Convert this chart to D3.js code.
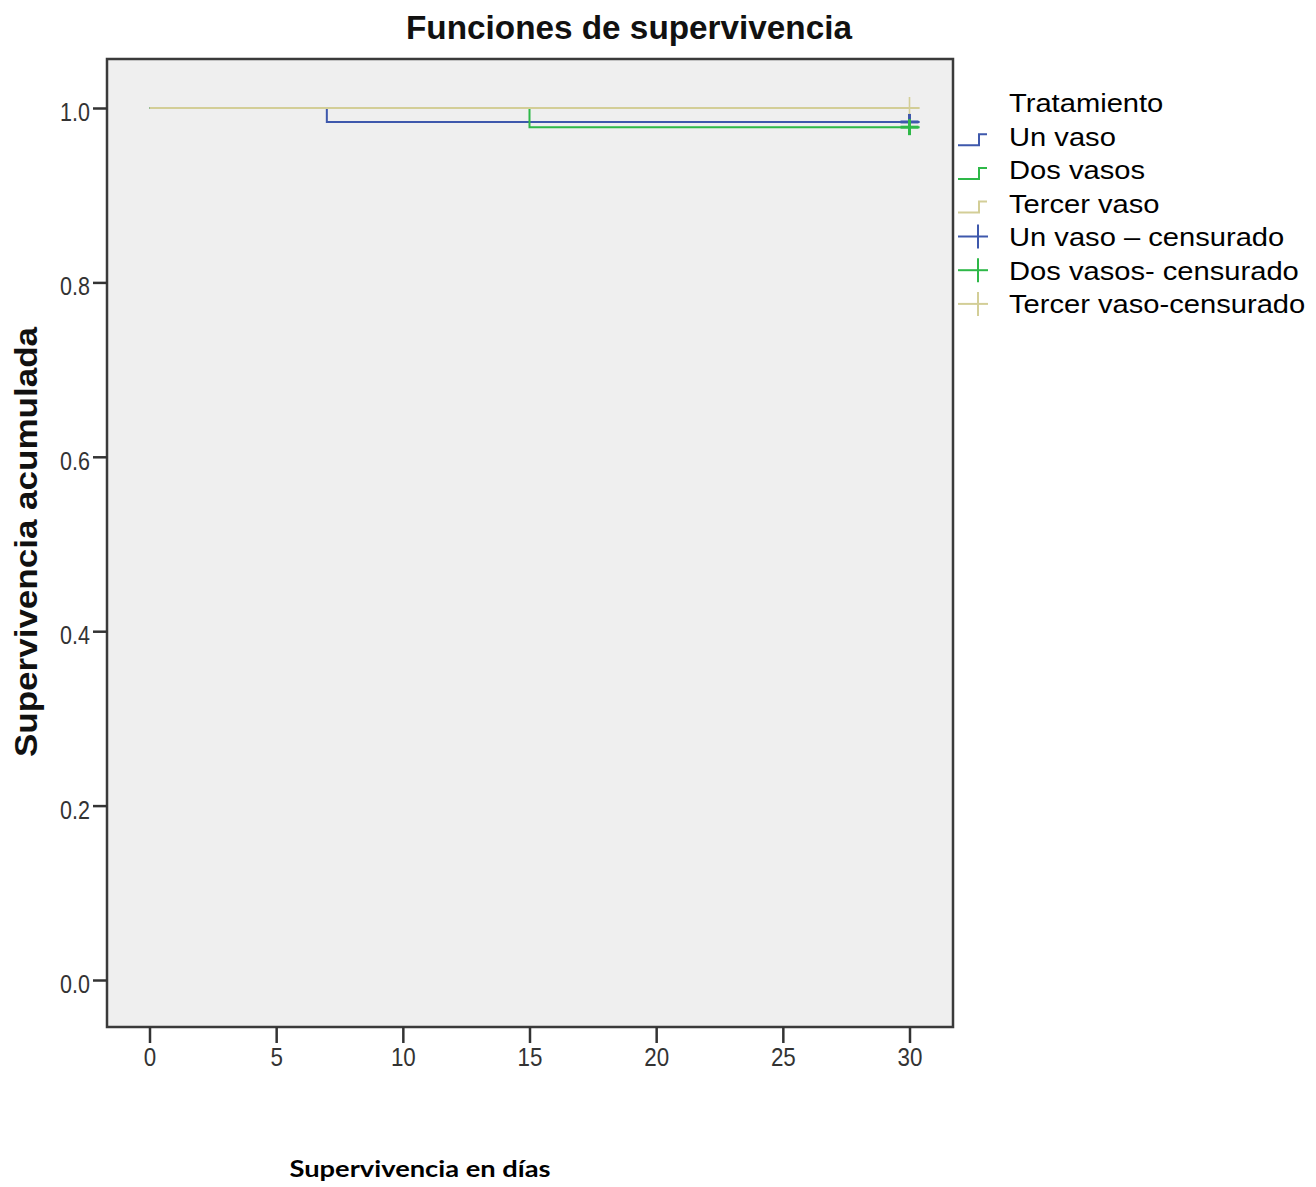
<!DOCTYPE html>
<html>
<head>
<meta charset="utf-8">
<script src="https://cdn.jsdelivr.net/npm/d3@7"></script>
<style>
  html, body { margin: 0; padding: 0; background: #ffffff; }
  svg { display: block; }
</style>
</head>
<body>
<svg id="chart" width="1316" height="1187"></svg>
<script>
// ---------- DATA ----------
const seriesNames = ["Un vaso", "Dos vasos", "Tercer vaso"];
const censoredNames = ["Un vaso \u2013 censurado", "Dos vasos- censurado", "Tercer vaso-censurado"];
const legendTitle = "Tratamiento";
const seriesColors = ["#3e58ac", "#2eb848", "#d3ce97"];

// step functions (time, cumulative survival)
const unVasoTimes = [0, 7, 30.4];
const unVasoSurv = [1.0, 0.984, 0.984];
const dosVasosTimes = [0, 15, 30.4];
const dosVasosSurv = [1.0, 0.978, 0.978];
const tercerVasoTimes = [0, 30.4];
const tercerVasoSurv = [1.0, 1.0];

// censored observations
const unVasoCensorTimes = [30];
const unVasoCensorSurv = [0.984];
const dosVasosCensorTimes = [30];
const dosVasosCensorSurv = [0.978];
const tercerVasoCensorTimes = [30];
const tercerVasoCensorSurv = [1.0];

const xTicks = [0, 5, 10, 15, 20, 25, 30];
const yTicks = [0.0, 0.2, 0.4, 0.6, 0.8, 1.0];

const chartTitle = "Funciones de supervivencia";
const xTitle = "Supervivencia en d\u00edas";
const yTitle = "Supervivencia acumulada";

// ---------- LAYOUT ----------
const svg = d3.select("#chart");
const frame = { left: 107, top: 59, right: 953, bottom: 1027 };

const x = d3.scaleLinear().domain([0, 30]).range([149.5, 909.5]);
const y = d3.scaleLinear().domain([0, 1]).range([980, 108]);

function condense(sel, factor) {
  sel.each(function () {
    const len = this.getComputedTextLength();
    d3.select(this).attr("textLength", len * factor).attr("lengthAdjust", "spacingAndGlyphs");
  });
}

// plot background / frame
svg.append("rect")
  .attr("x", frame.left).attr("y", frame.top)
  .attr("width", frame.right - frame.left)
  .attr("height", frame.bottom - frame.top)
  .attr("fill", "#efefef")
  .attr("stroke", "#3a3a3a")
  .attr("stroke-width", 2.5);

// axes
const yAxis = d3.axisLeft(y).tickValues(yTicks).tickFormat(d3.format(".1f")).tickSize(14).tickPadding(3);
const yG = svg.append("g").attr("transform", `translate(${frame.left},0)`).call(yAxis);
yG.select(".domain").remove();
yG.selectAll(".tick line").attr("stroke", "#333").attr("stroke-width", 2.5);
yG.selectAll(".tick text")
  .attr("fill", "#333")
  .attr("font-family", "Liberation Sans, Arial, sans-serif")
  .attr("font-size", 25)
  .attr("dy", "0.5em")
  .call(condense, 0.86);

const xAxis = d3.axisBottom(x).tickValues(xTicks).tickFormat(d3.format("d")).tickSize(16).tickPadding(5);
const xG = svg.append("g").attr("transform", `translate(0,${frame.bottom})`).call(xAxis);
xG.select(".domain").remove();
xG.selectAll(".tick line").attr("stroke", "#333").attr("stroke-width", 2.5);
xG.selectAll(".tick text")
  .attr("fill", "#333")
  .attr("font-family", "Liberation Sans, Arial, sans-serif")
  .attr("font-size", 26)
  .attr("dy", "0.68em")
  .call(condense, 0.86);

// series
const seriesData = [
  { times: unVasoTimes, surv: unVasoSurv, ct: unVasoCensorTimes, cs: unVasoCensorSurv, w: 3 },
  { times: dosVasosTimes, surv: dosVasosSurv, ct: dosVasosCensorTimes, cs: dosVasosCensorSurv, w: 3 },
  { times: tercerVasoTimes, surv: tercerVasoSurv, ct: tercerVasoCensorTimes, cs: tercerVasoCensorSurv, w: 1.6 }
];

const line = d3.line()
  .x(d => x(d[0]))
  .y(d => y(d[1]))
  .curve(d3.curveStepAfter);

[0, 1, 2].forEach(i => {
  const s = seriesData[i];
  const pts = s.times.map((t, k) => [t, s.surv[k]]);
  svg.append("path")
    .attr("d", line(pts))
    .attr("fill", "none")
    .attr("stroke", seriesColors[i])
    .attr("stroke-width", 2);
});

// censor crosses
const half = 9;
[2, 0, 1].forEach(i => {
  const s = seriesData[i];
  const g = svg.append("g").attr("stroke", seriesColors[i]).attr("stroke-width", s.w);
  s.ct.forEach((t, k) => {
    const cx = x(t), cy = y(s.cs[k]);
    const vh = i === 2 ? 11 : 8;
    g.append("line").attr("x1", cx - half).attr("x2", cx + half).attr("y1", cy).attr("y2", cy);
    g.append("line").attr("x1", cx).attr("x2", cx).attr("y1", cy - vh).attr("y2", cy + vh);
  });
});

// titles
svg.append("text")
  .attr("x", 629).attr("y", 39)
  .attr("text-anchor", "middle")
  .attr("font-family", "Liberation Sans, Arial, sans-serif")
  .attr("font-weight", "bold")
  .attr("font-size", 33)
  .attr("textLength", 446)
  .attr("lengthAdjust", "spacingAndGlyphs")
  .attr("fill", "#111")
  .text(chartTitle);

svg.append("text")
  .attr("transform", "translate(37,542) rotate(-90)")
  .attr("text-anchor", "middle")
  .attr("font-family", "Liberation Sans, Arial, sans-serif")
  .attr("font-weight", "bold")
  .attr("font-size", 31)
  .attr("textLength", 430)
  .attr("lengthAdjust", "spacingAndGlyphs")
  .attr("fill", "#111")
  .text(yTitle);

svg.append("text")
  .attr("x", 420).attr("y", 1177)
  .attr("text-anchor", "middle")
  .attr("font-family", "Lato, Open Sans, sans-serif")
  .attr("font-weight", "bold")
  .attr("font-size", 23)
  .attr("textLength", 261)
  .attr("lengthAdjust", "spacingAndGlyphs")
  .attr("fill", "#000")
  .text(xTitle);

// legend
const legX = 1009;
const legFont = "Liberation Sans, Arial, sans-serif";
const rowH = 33.7;
function legendText(txt, baseline) {
  svg.append("text")
    .attr("x", legX).attr("y", baseline)
    .attr("font-family", legFont)
    .attr("font-size", 25)
    .attr("fill", "#000")
    .text(txt)
    .call(condense, 1.165);
}
legendText(legendTitle, 112);

seriesNames.forEach((name, i) => {
  const base = 145.7 + i * rowH;
  const low = base - 0.5, high = base - 11.5;
  svg.append("path")
    .attr("d", `M958,${low} H979 V${high} H987`)
    .attr("fill", "none")
    .attr("stroke", seriesColors[i])
    .attr("stroke-width", 2);
  legendText(name, base);
});

censoredNames.forEach((name, i) => {
  const base = 246 + i * rowH;
  const cy = base - 9.5;
  const g = svg.append("g").attr("stroke", seriesColors[i]).attr("stroke-width", 2);
  g.append("line").attr("x1", 958).attr("x2", 988).attr("y1", cy).attr("y2", cy);
  g.append("line").attr("x1", 978).attr("x2", 978).attr("y1", cy - 12).attr("y2", cy + 12);
  legendText(name, base);
});
</script>
</body>
</html>
